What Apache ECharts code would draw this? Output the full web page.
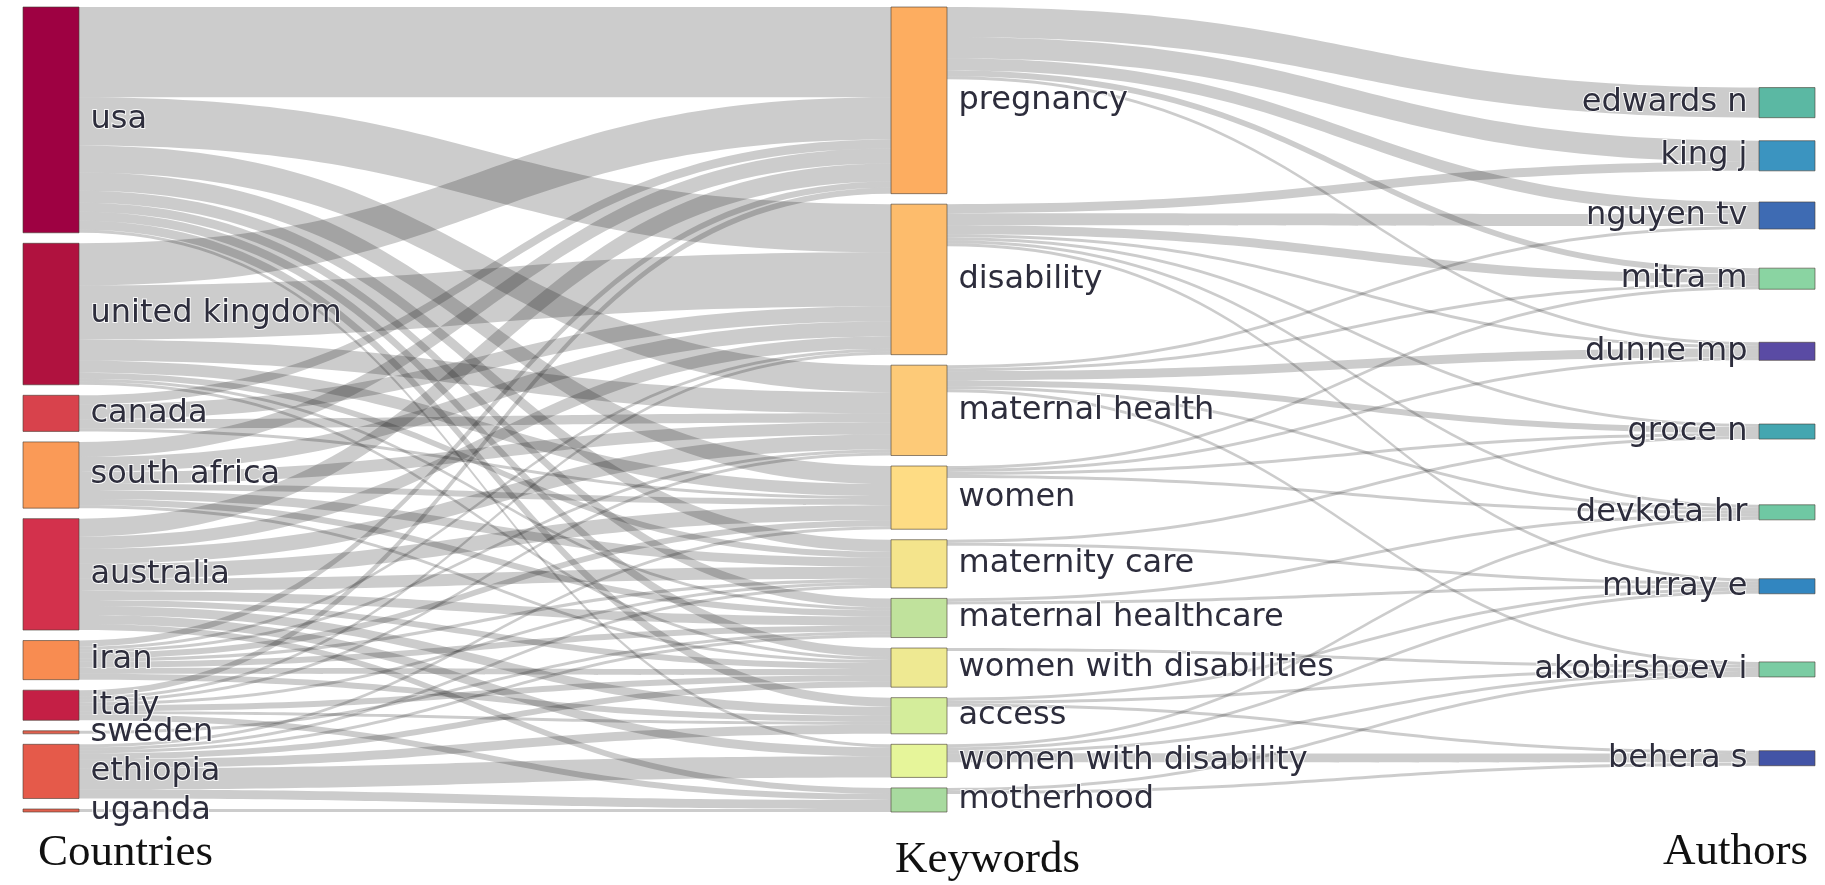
<!DOCTYPE html>
<html>
<head>
<meta charset="utf-8">
<script src="https://cdn.jsdelivr.net/npm/echarts@6/dist/echarts.min.js"></script>
<style>
  html, body { margin: 0; padding: 0; background: #fff; }
  #main { width: 1825px; height: 885px; }
</style>
</head>
<body>
<div id="main"></div>
<script>
var countries = ['usa', 'united kingdom', 'canada', 'south africa', 'australia', 'iran', 'italy', 'sweden', 'ethiopia', 'uganda'];
var keywords = ['pregnancy', 'disability', 'maternal health', 'women', 'maternity care', 'maternal healthcare',
  'women with disabilities', 'access', 'women with disability', 'motherhood'];
var authors = ['edwards n', 'king j', 'nguyen tv', 'mitra m', 'dunne mp', 'groce n', 'devkota hr', 'murray e',
  'akobirshoev i', 'behera s'];

// country -> keyword, one row per country, columns in keyword order
var countryKeyword = [
  [30, 16, 9, 6, 4, 3, 3, 3, 1, 0],
  [14, 18, 7, 4, 2, 1, 1, 0, 0, 0],
  [3, 5, 3, 1, 0, 0, 0, 0, 0, 0],
  [5, 5, 4, 2, 3, 2, 1, 0, 0, 0],
  [6, 4, 5, 5, 4, 3, 2, 3, 3, 2],
  [2, 1, 1, 2, 1, 2, 2, 2, 0, 0],
  [2, 1, 1, 0, 1, 0, 2, 1, 0, 2],
  [0, 0, 0, 0, 0, 1, 0, 0, 0, 0],
  [0, 0, 0, 1, 1, 1, 2, 3, 7, 3],
  [0, 0, 0, 0, 0, 0, 0, 0, 0, 1]
];

// keyword -> author, one row per keyword, columns in author order
var keywordAuthor = [
  [10, 7, 4, 2, 1, 0, 0, 0, 0, 0],
  [0, 3, 4, 3, 1, 1, 1, 1, 0, 0],
  [0, 0, 1, 1, 3, 2, 1, 0, 1, 0],
  [0, 0, 0, 1, 1, 1, 1, 0, 0, 0],
  [0, 0, 0, 0, 0, 1, 0, 1, 0, 0],
  [0, 0, 0, 0, 0, 0, 1, 1, 0, 0],
  [0, 0, 0, 0, 0, 0, 0, 0, 1, 0],
  [0, 0, 0, 0, 0, 0, 0, 1, 1, 1],
  [0, 0, 0, 0, 0, 0, 1, 1, 1, 3],
  [0, 0, 0, 0, 0, 0, 0, 0, 1, 1]
];

var fieldTitles = ['Countries', 'Keywords', 'Authors'];

var countryColors = ['#9e0142', '#b0123f', '#d8424c', '#fa9a57', '#d3314c', '#f88c51', '#c41f45', '#e0604e', '#e55a4a', '#e0604e'];
var keywordColors = ['#fdad60', '#fdbc6c', '#fdca78', '#fedc84', '#f4e48c', '#c0e29c', '#eee992', '#d4ed9b', '#e6f59a', '#a8da9f'];
var authorColors = ['#5bb8a3', '#3b94c0', '#3e6bb3', '#8ad4a2', '#5a4ba4', '#44a6b0', '#6fc8a3', '#3286c0', '#7bcca3', '#4354a6'];

var nodes = [];
var links = [];

countries.forEach(function (c, i) {
  nodes.push({ name: c, itemStyle: { color: countryColors[i] } });
});
keywords.forEach(function (k, i) {
  nodes.push({ name: k, itemStyle: { color: keywordColors[i] } });
});
authors.forEach(function (a, i) {
  nodes.push({ name: a, itemStyle: { color: authorColors[i] }, label: { position: 'left' } });
});

countryKeyword.forEach(function (row, i) {
  row.forEach(function (v, j) {
    if (v > 0) links.push({ source: countries[i], target: keywords[j], value: v });
  });
});
keywordAuthor.forEach(function (row, i) {
  row.forEach(function (v, j) {
    if (v > 0) links.push({ source: keywords[i], target: authors[j], value: v });
  });
});

var chart = echarts.init(document.getElementById('main'));

var titleFont = { fontFamily: 'Liberation Serif', fontSize: 45, fontWeight: 'normal', color: '#111' };

option = {
  backgroundColor: '#fff',
  animation: false,
  title: [
    { text: fieldTitles[0], left: 38, top: 831, padding: 0, textStyle: titleFont },
    { text: fieldTitles[1], left: 895, top: 838, padding: 0, textStyle: titleFont },
    { text: fieldTitles[2], left: 1663, top: 830, padding: 0, textStyle: titleFont }
  ],
  series: [
    {
      type: 'sankey',
      left: 23,
      right: 10,
      top: 7,
      bottom: 73,
      nodeWidth: 56,
      nodeGap: 10.5,
      nodeAlign: 'left',
      layoutIterations: 600,
      draggable: false,
      emphasis: { disabled: true },
      data: nodes,
      links: links,
      itemStyle: {
        borderColor: 'rgba(70,60,50,0.6)',
        borderWidth: 1
      },
      lineStyle: {
        color: '#000',
        opacity: 0.2,
        curveness: 0.5
      },
      label: {
        position: 'right',
        distance: 11,
        fontFamily: 'DejaVu Sans',
        fontSize: 32,
        color: '#2d2d3c',
        textBorderColor: 'rgba(255,255,255,0.85)',
        textBorderWidth: 2
      }
    }
  ]
};

chart.setOption(option);
</script>
</body>
</html>
